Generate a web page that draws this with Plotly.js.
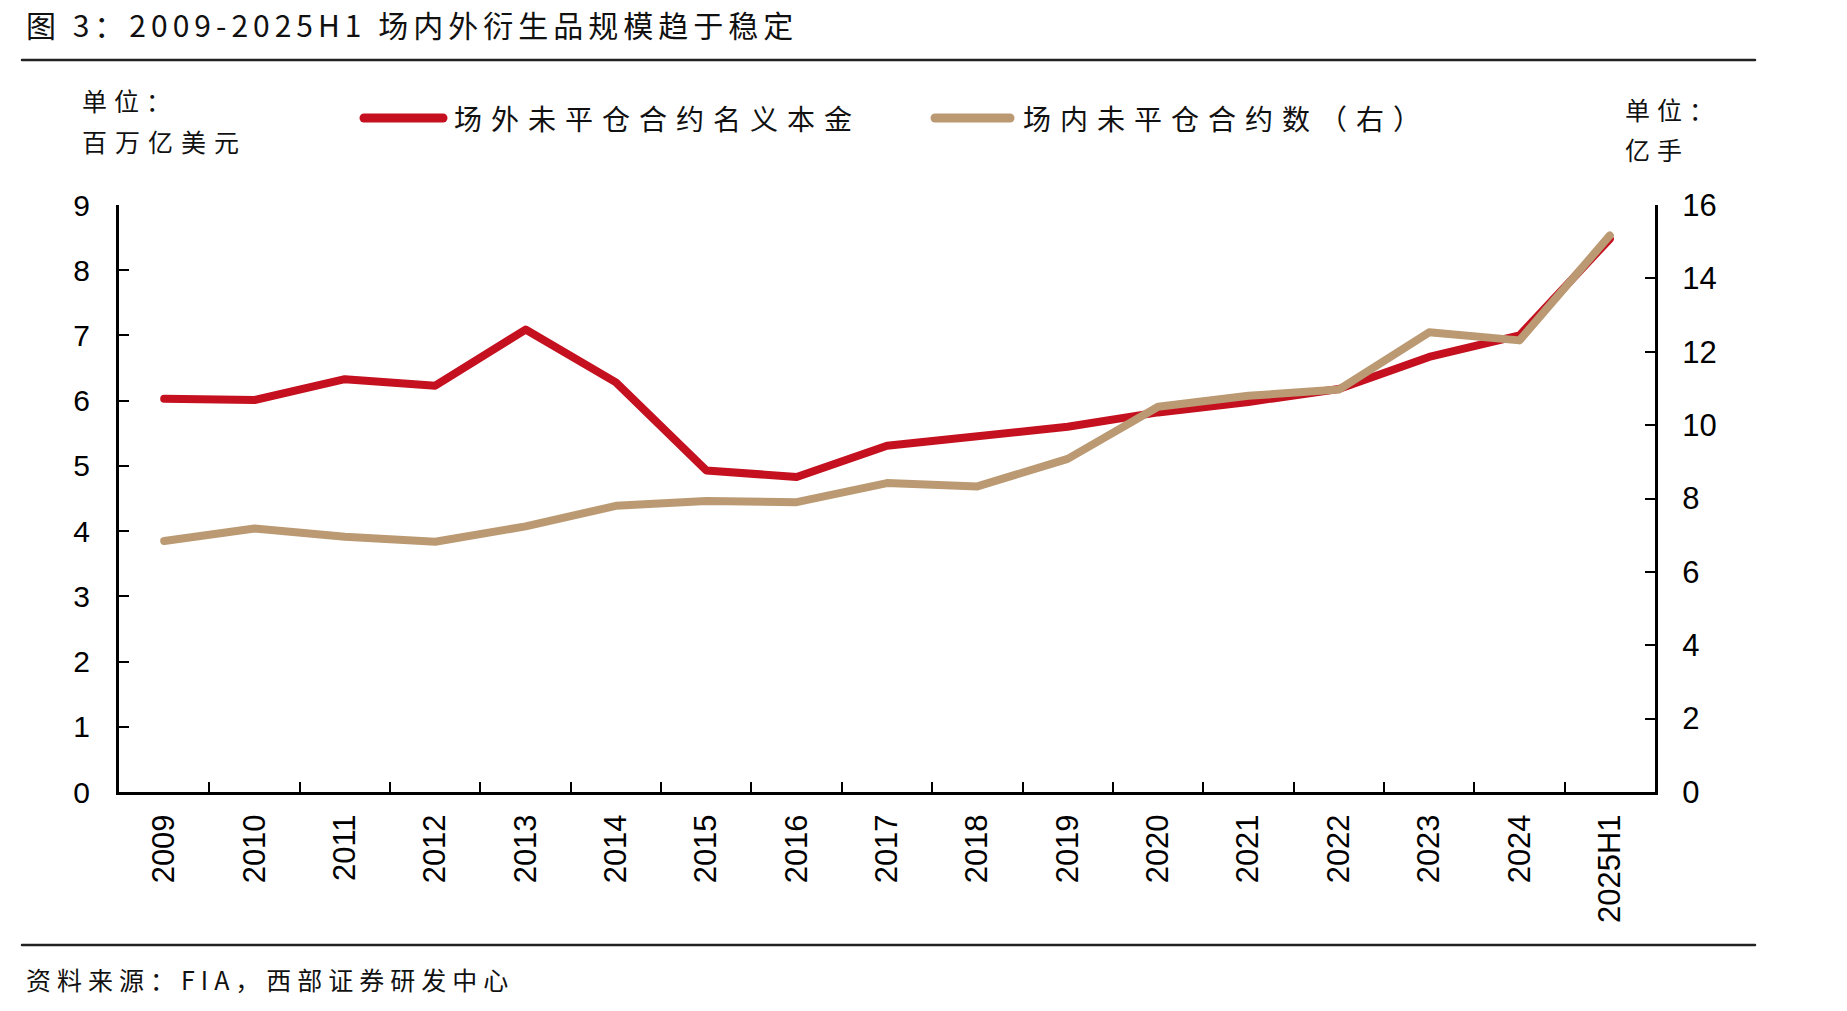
<!DOCTYPE html>
<html>
<head>
<meta charset="utf-8">
<script src="https://cdn.plot.ly/plotly-3.0.1.min.js"></script>
<style>
  html, body { margin: 0; padding: 0; background: #fff; }
  #chart { width: 1847px; height: 1011px; }
</style>
</head>
<body>
<div id="chart"></div>
<script>
// Years on the category axis
const categories = ['2009', '2010', '2011', '2012', '2013', '2014', '2015', '2016', '2017',
  '2018', '2019', '2020', '2021', '2022', '2023', '2024', '2025H1'];

// OTC outstanding notional, million 亿 USD (left axis)
const otcNotional = [6.03, 6.01, 6.33, 6.23, 7.09, 6.28, 4.93, 4.83, 5.31,
  5.44, 5.60, 5.82, 5.98, 6.18, 6.67, 7.00, 8.48];

// Exchange-traded open interest, 亿 contracts (right axis)
const exchangeOI = [6.84, 7.18, 6.96, 6.82, 7.24, 7.80, 7.93, 7.90, 8.42,
  8.33, 9.08, 10.50, 10.80, 10.97, 12.53, 12.31, 15.17];

const leftTicks = [0, 1, 2, 3, 4, 5, 6, 7, 8, 9];
const rightTicks = [0, 2, 4, 6, 8, 10, 12, 14, 16];

const seriesNames = ['场外未平仓合约名义本金', '场内未平仓合约数（右）'];
const titleText = '图 3：2009-2025H1 场内外衍生品规模趋于稳定';
const sourceText = '资料来源：FIA，西部证券研发中心';
const leftUnit = ['单位：', '百万亿美元'];
const rightUnit = ['单位：', '亿手'];

const RED = '#C4101F';
const TAN = '#BB9A73';
const CJK = '"Noto Sans CJK SC", "Noto Sans", sans-serif';
const NUM = '"Liberation Sans", Arial, sans-serif';

// plot-area edges in page pixels, used to place paper-referenced decorations
const L = 119, R = 1655, T = 205, B = 792;
const px = x => (x - L) / (R - L);
const py = y => (B - y) / (B - T);

const traces = [
  {
    x: categories, y: otcNotional, name: seriesNames[0], type: 'scatter', mode: 'lines',
    line: { color: RED, width: 8 }, yaxis: 'y', hoverinfo: 'x+y'
  },
  {
    x: categories, y: exchangeOI, name: seriesNames[1], type: 'scatter', mode: 'lines',
    line: { color: TAN, width: 8 }, yaxis: 'y2', hoverinfo: 'x+y'
  }
];

function textAnn(text, x, y, size, spacing) {
  return {
    text: text, xref: 'paper', yref: 'paper', x: px(x), y: py(y),
    xanchor: 'left', yanchor: 'middle', align: 'left', showarrow: false,
    font: { family: CJK, size: size, color: '#111' }, _spacing: spacing
  };
}

const annotations = [
  textAnn(titleText, 24, 24, 30, 5),
  textAnn(leftUnit[0], 80, 100, 25, 7),
  textAnn(leftUnit[1], 80, 141, 25, 8),
  textAnn(rightUnit[0], 1623, 109, 25, 7),
  textAnn(rightUnit[1], 1623, 149, 25, 7),
  textAnn(seriesNames[0], 452, 118, 28, 9),
  textAnn(seriesNames[1], 1021, 118, 28, 9),
  textAnn(sourceText, 24, 979, 25, 6)
];

// letter spacing for each annotation, applied through CSS
const css = annotations.map((a, i) =>
  'g.annotation[data-index="' + i + '"] text { letter-spacing: ' + a._spacing + 'px; }').join('\n');
const st = document.createElement('style');
st.textContent = css + '\n.shapelayer path { stroke-linecap: round; }\n.scatterlayer .js-line { stroke-linecap: round; stroke-linejoin: round; }';
document.head.appendChild(st);
annotations.forEach(a => delete a._spacing);

const shapes = [
  // rules above and below the chart
  { type: 'line', xref: 'paper', yref: 'paper', x0: px(22), x1: px(1755), y0: py(60), y1: py(60),
    line: { color: '#222', width: 2.5 } },
  { type: 'line', xref: 'paper', yref: 'paper', x0: px(22), x1: px(1755), y0: py(945), y1: py(945),
    line: { color: '#222', width: 2.5 } },
  // legend samples
  { type: 'line', xref: 'paper', yref: 'paper', x0: px(364), x1: px(443), y0: py(118), y1: py(118),
    line: { color: RED, width: 9 } },
  { type: 'line', xref: 'paper', yref: 'paper', x0: px(935), x1: px(1010), y0: py(118), y1: py(118),
    line: { color: TAN, width: 9 } }
];

const layout = {
  width: 1847, height: 1011,
  margin: { l: L, r: 1847 - R, t: T, b: 1011 - B, pad: 0 },
  paper_bgcolor: '#fff', plot_bgcolor: '#fff',
  showlegend: false,
  xaxis: {
    type: 'category', categoryorder: 'array', categoryarray: categories,
    range: [-0.5, categories.length - 0.5],
    showline: true, linecolor: '#000', linewidth: 3,
    ticks: 'inside', tickson: 'boundaries', ticklen: 10, tickwidth: 2, tickcolor: '#000',
    tickangle: -90, tickfont: { family: NUM, size: 31, color: '#000' },
    ticklabelstandoff: 7, showgrid: false, zeroline: false, fixedrange: true
  },
  yaxis: {
    range: [0, 9], tickvals: leftTicks, ticktext: leftTicks.map(String),
    showline: true, linecolor: '#000', linewidth: 3,
    ticks: 'inside', ticklen: 10, tickwidth: 2, tickcolor: '#000',
    tickfont: { family: NUM, size: 30, color: '#000' },
    ticklabelstandoff: 20, showgrid: false, zeroline: false, fixedrange: true
  },
  yaxis2: {
    overlaying: 'y', side: 'right', anchor: 'x',
    range: [0, 16], tickvals: rightTicks, ticktext: rightTicks.map(String),
    showline: true, linecolor: '#000', linewidth: 3,
    ticks: 'inside', ticklen: 10, tickwidth: 2, tickcolor: '#000',
    tickfont: { family: NUM, size: 31, color: '#000' },
    ticklabelstandoff: 18, showgrid: false, zeroline: false, fixedrange: true
  },
  annotations: annotations,
  shapes: shapes
};

Plotly.newPlot('chart', traces, layout, { displayModeBar: false, staticPlot: true });
</script>
</body>
</html>
